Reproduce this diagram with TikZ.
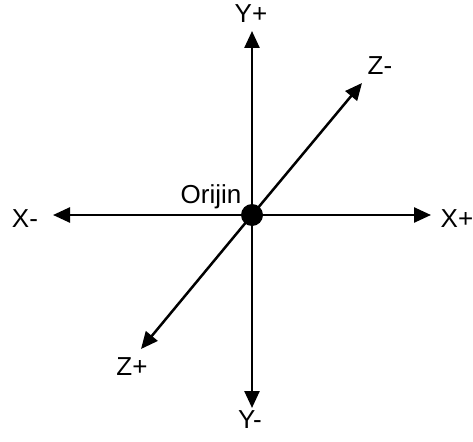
\documentclass[tikz,border=0pt]{standalone}
\usepackage{fontspec}
\setmainfont{Liberation Sans}
\usetikzlibrary{arrows.meta}
\begin{document}
\begin{tikzpicture}[x=1pt,y=-1pt,
  axis/.style={line width=2.5pt,-{Triangle[length=17pt,width=15pt]}},
  lbl/.style={anchor=base,inner sep=0pt,font=\fontsize{26}{30}\selectfont},
  dot/.style={circle,fill=black,minimum size=22pt,inner sep=0pt}]
\useasboundingbox (0,0) rectangle (473,441);
\coordinate (o) at (252,215);
\coordinate (yp) at (252,31);
\coordinate (ym) at (252,408);
\coordinate (xm) at (53,215);
\coordinate (xp) at (431,215);
\coordinate (zm) at (362,83);
\coordinate (zp) at (141,349);
\draw[axis] (o) -- (yp);
\draw[axis] (o) -- (ym);
\draw[axis] (o) -- (xm);
\draw[axis] (o) -- (xp);
\draw[axis] (o) -- (zm);
\draw[axis] (o) -- (zp);
\node[dot] (origin) at (o) {};
\node[lbl] (lyp) at (251,23) {Y+};
\node[lbl] (lym) at (250,428) {Y-};
\node[lbl] (lxm) at (25,227) {X-};
\node[lbl] (lxp) at (457,227) {X+};
\node[lbl] (lzm) at (380,75) {Z-};
\node[lbl] (lzp) at (132,375) {Z+};
\node[lbl] (lo) at (211,203) {Orijin};
\end{tikzpicture}
\end{document}
